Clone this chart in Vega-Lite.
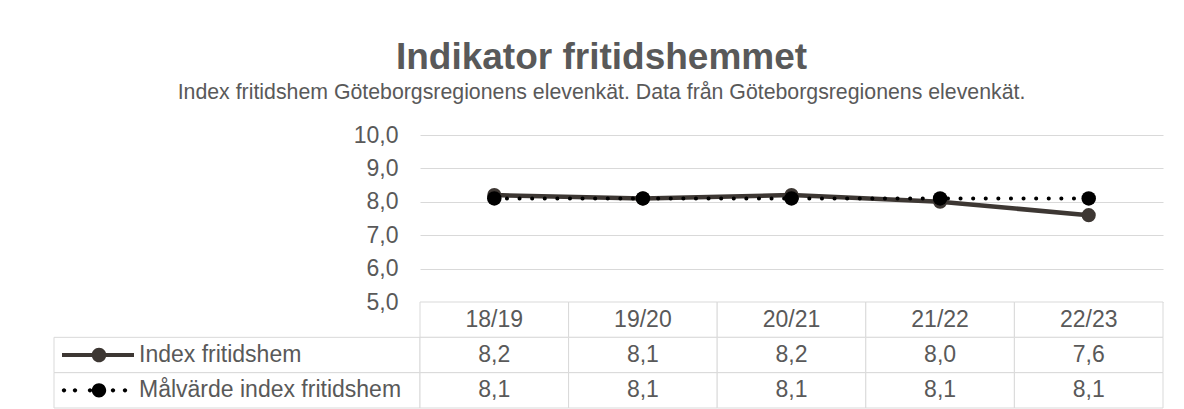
{
  "$schema": "https://vega.github.io/schema/vega-lite/v6.json",
  "padding": {"left": 53, "top": 38, "right": 22, "bottom": 3},
  "background": "white",
  "title": {
    "text": "Indikator fritidshemmet",
    "subtitle": "Index fritidshem Göteborgsregionens elevenkät. Data från Göteborgsregionens elevenkät.",
    "anchor": "middle",
    "dx": -7,
    "font": "Liberation Sans",
    "fontSize": 37,
    "fontWeight": "bold",
    "color": "#595959",
    "subtitleFont": "Liberation Sans",
    "subtitleFontSize": 21.3,
    "subtitleColor": "#595959",
    "subtitlePadding": 5,
    "offset": 20
  },
  "datasets": {
    "main": [
      {"year": "18/19", "series": "Index fritidshem", "value": 8.2},
      {"year": "19/20", "series": "Index fritidshem", "value": 8.1},
      {"year": "20/21", "series": "Index fritidshem", "value": 8.2},
      {"year": "21/22", "series": "Index fritidshem", "value": 8.0},
      {"year": "22/23", "series": "Index fritidshem", "value": 7.6},
      {"year": "18/19", "series": "Målvärde index fritidshem", "value": 8.1},
      {"year": "19/20", "series": "Målvärde index fritidshem", "value": 8.1},
      {"year": "20/21", "series": "Målvärde index fritidshem", "value": 8.1},
      {"year": "21/22", "series": "Målvärde index fritidshem", "value": 8.1},
      {"year": "22/23", "series": "Målvärde index fritidshem", "value": 8.1}
    ]
  },
  "columns": 2,
  "spacing": 0,
  "bounds": "flush",
  "align": "each",
  "concat": [
    {
      "width": 366,
      "height": 167,
      "data": {"values": [{}]},
      "mark": {"type": "text", "text": " "}
    },
    {
      "width": 743,
      "height": 167,
      "data": {"name": "main"},
      "encoding": {
        "x": {"field": "year", "type": "nominal", "axis": null, "sort": null, "scale": {"type": "point", "padding": 0.5}},
        "y": {
          "field": "value",
          "type": "quantitative",
          "scale": {"domain": [5, 10], "nice": false, "zero": false},
          "axis": {
            "values": [5, 6, 7, 8, 9, 10],
            "format": ".1f",
            "grid": true,
            "gridColor": "#d9d9d9",
            "gridWidth": 1,
            "domain": false,
            "ticks": false,
            "labelPadding": 22,
            "labelFont": "Liberation Sans",
            "labelFontSize": 23,
            "labelColor": "#595959",
            "title": null
          }
        }
      },
      "layer": [
        {
          "transform": [{"filter": "datum.series == 'Index fritidshem'"}],
          "mark": {"type": "line", "color": "#3d3733", "strokeWidth": 4.5}
        },
        {
          "transform": [{"filter": "datum.series == 'Index fritidshem'"}],
          "mark": {"type": "point", "filled": true, "opacity": 1, "color": "#3d3733", "size": 200}
        },
        {
          "transform": [{"filter": "datum.series == 'Målvärde index fritidshem'"}],
          "mark": {"type": "line", "color": "#000000", "strokeWidth": 4, "strokeDash": [0.1, 12.5], "strokeCap": "round"}
        },
        {
          "transform": [{"filter": "datum.series == 'Målvärde index fritidshem'"}],
          "mark": {"type": "point", "filled": true, "opacity": 1, "color": "#000000", "size": 210}
        }
      ]
    },
    {
      "width": 366,
      "height": 106,
      "data": {"name": "main"},
      "transform": [{"filter": "datum.year == '18/19'"}],
      "encoding": {
        "y": {
          "field": "series",
          "type": "nominal",
          "axis": null,
          "scale": {"domain": ["hdr", "Index fritidshem", "Målvärde index fritidshem"], "paddingInner": 0, "paddingOuter": 0}
        }
      },
      "layer": [
        {
          "mark": {"type": "bar", "fill": "white", "stroke": "#d9d9d9", "strokeWidth": 1}
        },
        {
          "transform": [{"filter": "datum.series == 'Index fritidshem'"}],
          "mark": {
            "type": "point",
            "filled": true,
            "opacity": 1,
            "color": "#3d3733",
            "size": 400,
            "shape": "M-17.5,-0.2 H-10.3 V0.2 H-17.5 Z M-13.07,0 A0.73,0.73 0 1 1 -14.53,0 A0.73,0.73 0 1 1 -13.07,0 Z"
          }
        },
        {
          "transform": [{"filter": "datum.series == 'Målvärde index fritidshem'"}],
          "mark": {
            "type": "point",
            "filled": true,
            "opacity": 1,
            "color": "#000000",
            "size": 400,
            "shape": "M-17.08,0 A0.22,0.22 0 1 1 -17.52,0 A0.22,0.22 0 1 1 -17.08,0 Z M-15.98,0 A0.22,0.22 0 1 1 -16.42,0 A0.22,0.22 0 1 1 -15.98,0 Z M-14.48,0 A0.22,0.22 0 1 1 -14.92,0 A0.22,0.22 0 1 1 -14.48,0 Z M-12.18,0 A0.22,0.22 0 1 1 -12.62,0 A0.22,0.22 0 1 1 -12.18,0 Z M-10.98,0 A0.22,0.22 0 1 1 -11.42,0 A0.22,0.22 0 1 1 -10.98,0 Z M-13.08,0 A0.72,0.72 0 1 1 -14.52,0 A0.72,0.72 0 1 1 -13.08,0 Z"
          }
        },
        {
          "mark": {
            "type": "text",
            "align": "left",
            "baseline": "middle",
            "dx": -98,
            "font": "Liberation Sans",
            "fontSize": 23,
            "color": "#595959"
          },
          "encoding": {"text": {"field": "series"}}
        }
      ]
    },
    {
      "width": 743,
      "height": 106,
      "data": {"name": "main"},
      "encoding": {
        "x": {"field": "year", "type": "nominal", "axis": null, "sort": null, "scale": {"paddingInner": 0, "paddingOuter": 0}}
      },
      "layer": [
        {
          "transform": [{"filter": "datum.series == 'Index fritidshem'"}],
          "mark": {"type": "rect", "fill": "white", "stroke": "#d9d9d9", "strokeWidth": 1},
          "encoding": {
            "y": {
              "datum": "hdr",
              "type": "nominal",
              "axis": null,
              "scale": {"domain": ["hdr", "Index fritidshem", "Målvärde index fritidshem"], "paddingInner": 0, "paddingOuter": 0}
            }
          }
        },
        {
          "mark": {"type": "rect", "fill": "white", "stroke": "#d9d9d9", "strokeWidth": 1},
          "encoding": {"y": {"field": "series", "type": "nominal", "axis": null}}
        },
        {
          "transform": [{"filter": "datum.series == 'Index fritidshem'"}],
          "mark": {"type": "text", "baseline": "middle", "font": "Liberation Sans", "fontSize": 23, "color": "#595959"},
          "encoding": {
            "y": {"datum": "hdr", "type": "nominal", "axis": null},
            "text": {"field": "year"}
          }
        },
        {
          "mark": {"type": "text", "baseline": "middle", "font": "Liberation Sans", "fontSize": 23, "color": "#595959"},
          "encoding": {
            "y": {"field": "series", "type": "nominal", "axis": null},
            "text": {"field": "value", "type": "quantitative", "format": ".1f"}
          }
        }
      ]
    }
  ],
  "config": {
    "view": {"stroke": null},
    "locale": {
      "number": {"decimal": ",", "thousands": " ", "grouping": [3], "currency": ["", " kr"]}
    }
  }
}
